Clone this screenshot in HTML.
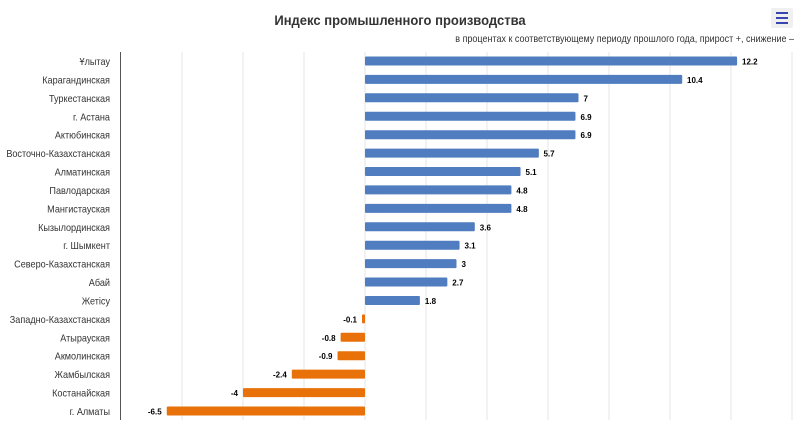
<!DOCTYPE html>
<html><head><meta charset="utf-8"><style>
html,body{margin:0;padding:0;background:#fff;}
svg{display:block;font-family:"Liberation Sans",sans-serif;}
</style></head><body>
<svg width="800" height="425" viewBox="0 0 800 425" xmlns="http://www.w3.org/2000/svg">
<rect width="800" height="425" fill="#fff"/>
<text x="400" y="25" text-anchor="middle" font-size="14" font-weight="bold" fill="#333" transform="translate(400,0) scale(0.93,1) translate(-400,0)">Индекс промышленного производства</text>
<text x="794" y="42" text-anchor="end" font-size="10" fill="#333" transform="translate(794,0) scale(0.9,1) translate(-794,0)">в процентах к соответствующему периоду прошлого года, прирост +, снижение –</text>
<rect x="771" y="8" width="22" height="20" rx="2" fill="#f0f0f0"/>
<g stroke="#3a46b0" stroke-width="2"><line x1="776" y1="13" x2="788" y2="13"/><line x1="776" y1="18" x2="788" y2="18"/><line x1="776" y1="23" x2="788" y2="23"/></g>
<g stroke="#e6e6e6" stroke-width="1">
<line x1="182" y1="52" x2="182" y2="420"/><line x1="243" y1="52" x2="243" y2="420"/><line x1="304" y1="52" x2="304" y2="420"/><line x1="365" y1="52" x2="365" y2="420"/><line x1="426" y1="52" x2="426" y2="420"/><line x1="487" y1="52" x2="487" y2="420"/><line x1="548" y1="52" x2="548" y2="420"/><line x1="609" y1="52" x2="609" y2="420"/><line x1="670" y1="52" x2="670" y2="420"/><line x1="731" y1="52" x2="731" y2="420"/><line x1="792" y1="52" x2="792" y2="420"/>
</g>
<line x1="120.5" y1="52" x2="120.5" y2="420" stroke="#555" stroke-width="1"/>
<g font-size="10" fill="#333" text-anchor="end" transform="translate(110,0) scale(0.91,1) translate(-110,0)">
<text x="110" y="65">Ұлытау</text>
<text x="110" y="83.4">Карагандинская</text>
<text x="110" y="101.8">Туркестанская</text>
<text x="110" y="120.3">г. Астана</text>
<text x="110" y="138.7">Актюбинская</text>
<text x="110" y="157.1">Восточно-Казахстанская</text>
<text x="110" y="175.5">Алматинская</text>
<text x="110" y="193.9">Павлодарская</text>
<text x="110" y="212.4">Мангистауская</text>
<text x="110" y="230.8">Кызылординская</text>
<text x="110" y="249.2">г. Шымкент</text>
<text x="110" y="267.6">Северо-Казахстанская</text>
<text x="110" y="286">Абай</text>
<text x="110" y="304.5">Жетісу</text>
<text x="110" y="322.9">Западно-Казахстанская</text>
<text x="110" y="341.3">Атырауская</text>
<text x="110" y="359.7">Акмолинская</text>
<text x="110" y="378.1">Жамбылская</text>
<text x="110" y="396.6">Костанайская</text>
<text x="110" y="415">г. Алматы</text>
</g>
<g fill="#4f7dbf">
<rect x="365" y="56.5" width="372.1" height="9" rx="1"/>
<rect x="365" y="74.9" width="317.2" height="9" rx="1"/>
<rect x="365" y="93.3" width="213.5" height="9" rx="1"/>
<rect x="365" y="111.8" width="210.45" height="9" rx="1"/>
<rect x="365" y="130.2" width="210.45" height="9" rx="1"/>
<rect x="365" y="148.6" width="173.85" height="9" rx="1"/>
<rect x="365" y="167" width="155.55" height="9" rx="1"/>
<rect x="365" y="185.4" width="146.4" height="9" rx="1"/>
<rect x="365" y="203.9" width="146.4" height="9" rx="1"/>
<rect x="365" y="222.3" width="109.8" height="9" rx="1"/>
<rect x="365" y="240.7" width="94.55" height="9" rx="1"/>
<rect x="365" y="259.1" width="91.5" height="9" rx="1"/>
<rect x="365" y="277.5" width="82.35" height="9" rx="1"/>
<rect x="365" y="296" width="54.9" height="9" rx="1"/>
</g>
<g fill="#e8710a">
<rect x="362" y="314.4" width="3" height="9" rx="1"/>
<rect x="340.6" y="332.8" width="24.4" height="9" rx="1"/>
<rect x="337.55" y="351.2" width="27.45" height="9" rx="1"/>
<rect x="291.8" y="369.6" width="73.2" height="9" rx="1"/>
<rect x="243" y="388.1" width="122" height="9" rx="1"/>
<rect x="166.75" y="406.5" width="198.25" height="9" rx="1"/>
</g>
<g font-size="8" font-weight="bold" fill="#000">
<text x="742" y="64.5">12.2</text>
<text x="687" y="82.9">10.4</text>
<text x="583.5" y="101.3">7</text>
<text x="580.5" y="119.8">6.9</text>
<text x="580.5" y="138.2">6.9</text>
<text x="543.5" y="156.6">5.7</text>
<text x="525.5" y="175">5.1</text>
<text x="516.4" y="193.4">4.8</text>
<text x="516.4" y="211.9">4.8</text>
<text x="479.8" y="230.3">3.6</text>
<text x="464.5" y="248.7">3.1</text>
<text x="461.5" y="267.1">3</text>
<text x="452.3" y="285.5">2.7</text>
<text x="424.9" y="304">1.8</text>
</g>
<g font-size="8" font-weight="bold" fill="#000" text-anchor="end">
<text x="357" y="322.4">-0.1</text>
<text x="335.6" y="340.8">-0.8</text>
<text x="332.5" y="359.2">-0.9</text>
<text x="286.8" y="377.6">-2.4</text>
<text x="238" y="396.1">-4</text>
<text x="161.7" y="414.5">-6.5</text>
</g>
</svg>
</body></html>
